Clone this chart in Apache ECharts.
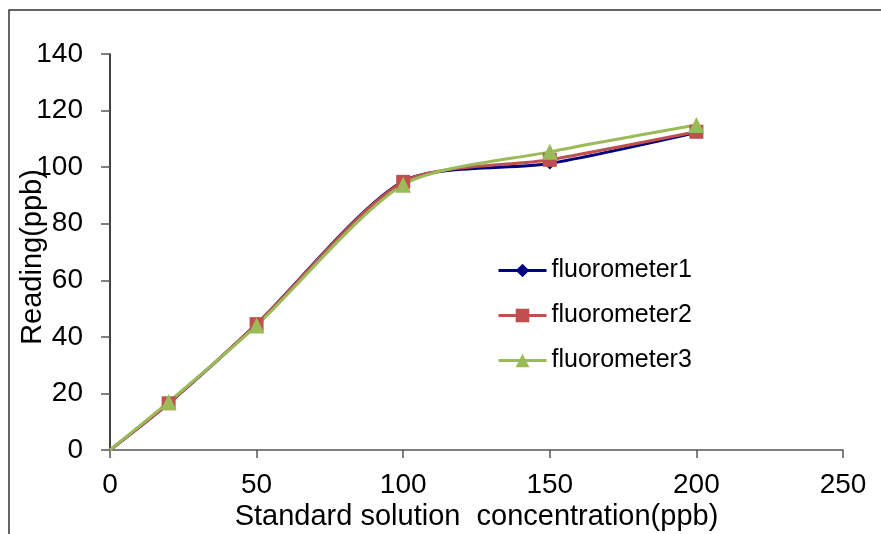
<!DOCTYPE html>
<html><head><meta charset="utf-8">
<script src="https://cdn.jsdelivr.net/npm/echarts@6/dist/echarts.min.js"></script>
<style>html,body{margin:0;padding:0;background:#fff}#c{width:881px;height:534px}</style>
</head><body><div id="c"></div>
<script>
const xValues = [0, 20, 50, 100, 150, 200];
const fluoro1 = [0, 16.5, 44.5, 95, 101.3, 112.2];
const fluoro2 = [0, 16.5, 44.5, 94.8, 102.6, 112.5];
const fluoro3 = [0, 17, 44, 93.8, 105.4, 114.9];
const seriesNames = ['fluorometer1', 'fluorometer2', 'fluorometer3'];
const xTitle = 'Standard solution  concentration(ppb)';
const yTitle = 'Reading(ppb)';

const font = 'Liberation Sans, Arial, sans-serif';
const pairs = arr => xValues.map((x, i) => i === 0 ? {value: [x, arr[i]], symbol: 'none'} : [x, arr[i]]);
const chart = echarts.init(document.getElementById('c'));
chart.setOption({
  animation: false,
  backgroundColor: '#fff',
  graphic: [{type: 'rect', shape: {x: 9, y: 10, width: 1000, height: 700}, style: {fill: 'none', stroke: '#333', lineWidth: 1.5}, silent: true, z: -1}],
  grid: {left: 110, right: 38, top: 54, bottom: 84, containLabel: false, outerBoundsMode: 'none'},
  legend: {
    orient: 'vertical', left: 492, top: 253, itemGap: 20, itemWidth: 48, itemHeight: 17,
    textStyle: {fontFamily: font, fontSize: 25, color: '#000'},
    lineStyle: {width: 3},
    data: seriesNames
  },
  xAxis: {
    type: 'value', min: 0, max: 250, interval: 50,
    axisLine: {lineStyle: {color: '#555', width: 1.5}},
    axisTick: {show: true, length: 8, lineStyle: {color: '#555', width: 1.5}},
    axisLabel: {fontFamily: font, fontSize: 28, color: '#000', margin: 21},
    splitLine: {show: false},
    name: xTitle, nameLocation: 'middle', nameGap: 52, nameMoveOverlap: false,
    nameTextStyle: {fontFamily: font, fontSize: 29, color: '#000'}
  },
  yAxis: {
    type: 'value', min: 0, max: 140, interval: 20,
    axisLine: {show: true, lineStyle: {color: '#000', width: 1.5}},
    axisTick: {show: true, length: 9, lineStyle: {color: '#555', width: 1.5}},
    axisLabel: {fontFamily: font, fontSize: 28, color: '#000', margin: 27},
    splitLine: {show: false},
    name: yTitle, nameLocation: 'middle', nameGap: 63, nameMoveOverlap: false,
    nameTextStyle: {fontFamily: font, fontSize: 29, color: '#000', padding: [0, 10, 0, 0]}
  },
  series: [
    {name: seriesNames[0], type: 'line', smooth: 0.25, data: pairs(fluoro1), symbol: 'diamond', symbolSize: 12,
     color: '#000080', lineStyle: {width: 3, color: '#000080'}, itemStyle: {color: '#000080'}},
    {name: seriesNames[1], type: 'line', smooth: 0.25, data: pairs(fluoro2), symbol: 'rect', symbolSize: 14,
     color: '#C0504D', lineStyle: {width: 3, color: '#C0504D'}, itemStyle: {color: '#C0504D'}},
    {name: seriesNames[2], type: 'line', smooth: 0.25, data: pairs(fluoro3), symbol: 'triangle', symbolSize: 16,
     color: '#9BBB59', lineStyle: {width: 3, color: '#9BBB59'}, itemStyle: {color: '#9BBB59'}}
  ]
});
</script></body></html>
